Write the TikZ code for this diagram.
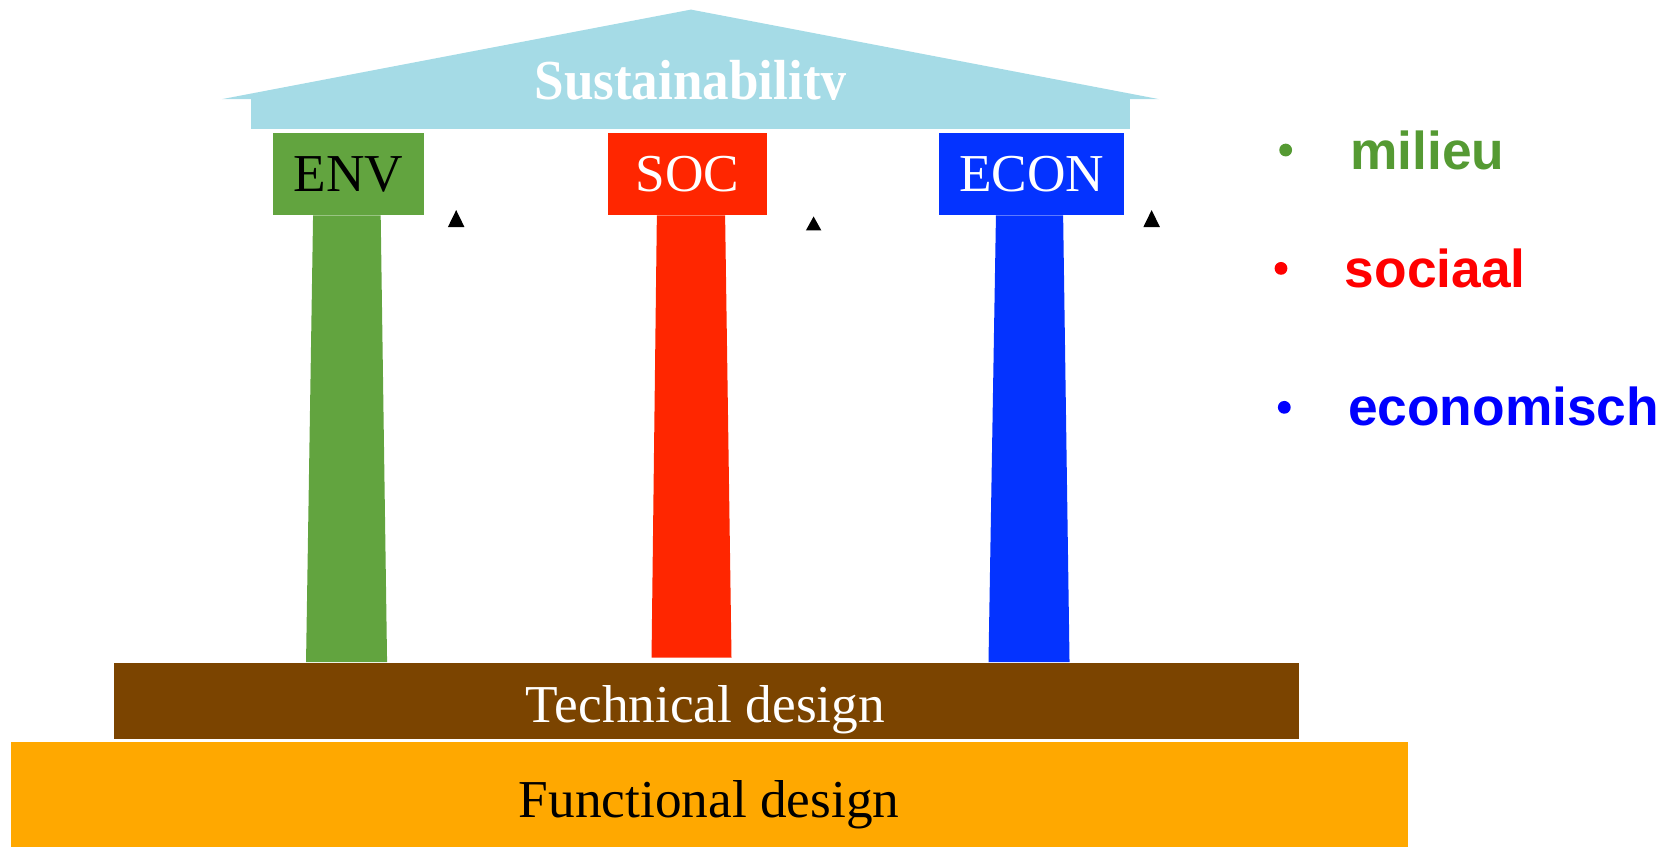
\documentclass[tikz,border=0pt]{standalone}
\usepackage{fontspec}
\setmainfont{Liberation Serif}
\setsansfont{Liberation Sans}
\usepackage{tikz}

\definecolor{roofblue}{HTML}{A5DBE6}
\definecolor{envgreen}{HTML}{62A43F}
\definecolor{socred}{HTML}{FF2600}
\definecolor{econblue}{HTML}{0433FF}
\definecolor{techbrown}{HTML}{7B4400}
\definecolor{funcorange}{HTML}{FFA800}
\definecolor{milieugreen}{HTML}{559A33}
\definecolor{sociaalred}{HTML}{FF0000}
\definecolor{econmblue}{HTML}{0000FF}

\begin{document}
\begin{tikzpicture}[x=1pt,y=-1pt,
		head/.style={inner sep=0pt, minimum height=77pt, font=\fontsize{50}{60}\selectfont},
		label/.style={inner sep=0pt, anchor=base, font=\fontsize{50}{60}\selectfont},
		item/.style={inner sep=0pt, anchor=base west, font=\sffamily\bfseries\fontsize{50}{60}\selectfont}]
		\useasboundingbox (0,0) rectangle (1568,794);
		\fill[roofblue] (208,93) -- (648,9) -- (1087,93) -- cycle;
		\fill[roofblue] (235,93) rectangle (1060,121);
		\begin{scope}
			\clip (200,0) rectangle (1100,93);
			\node[label, white, font=\bfseries\fontsize{53}{60}\selectfont, xscale=0.94] (roof) at (648,93) {Sustainability};
		\end{scope}
		\fill[envgreen] (293.6,202) -- (357,202) -- (363,621) -- (287,621) -- cycle;
		\fill[socred] (616,202) -- (680,202) -- (686,616.7) -- (611,616.7) -- cycle;
		\fill[econblue] (934,202) -- (997,202) -- (1003,621) -- (927,621) -- cycle;
		\node[head, fill=envgreen, text=black, minimum width=142pt] (env) at (327,163.5) {ENV};
		\node[head, fill=socred, text=white, minimum width=149pt] (soc) at (644.5,163.5) {SOC};
		\node[head, fill=econblue, text=white, minimum width=174pt] (econ) at (967.5,163.5) {ECON};
		\fill (427.8,197) -- ++(7.8,16) -- ++(-15.6,0) -- cycle;
		\fill (763,203) -- ++(7.2,13) -- ++(-14.4,0) -- cycle;
		\fill (1080,197) -- ++(7.8,16) -- ++(-15.6,0) -- cycle;
		\fill[techbrown] (107,621.5) rectangle (1218,692.7);
		\fill[funcorange] (10,696) rectangle (1320,794);
		\node[label, white] (tech) at (661.5,677.7) {Technical design};
		\node[label, black] (func) at (665,766.5) {Functional design};
		\fill[milieugreen] (1205.7,140.7) circle (6);
		\fill[sociaalred] (1201.3,251.7) circle (6);
		\fill[econmblue] (1204.4,382) circle (6);
		\node[item, milieugreen] (milieu) at (1266,158.8) {milieu};
		\node[item, sociaalred] (sociaal) at (1261,269.4) {sociaal};
		\node[item, econmblue] (economisch) at (1264,398.6) {economisch};
	% temple of sustainability
	\end{tikzpicture}
\end{document}
